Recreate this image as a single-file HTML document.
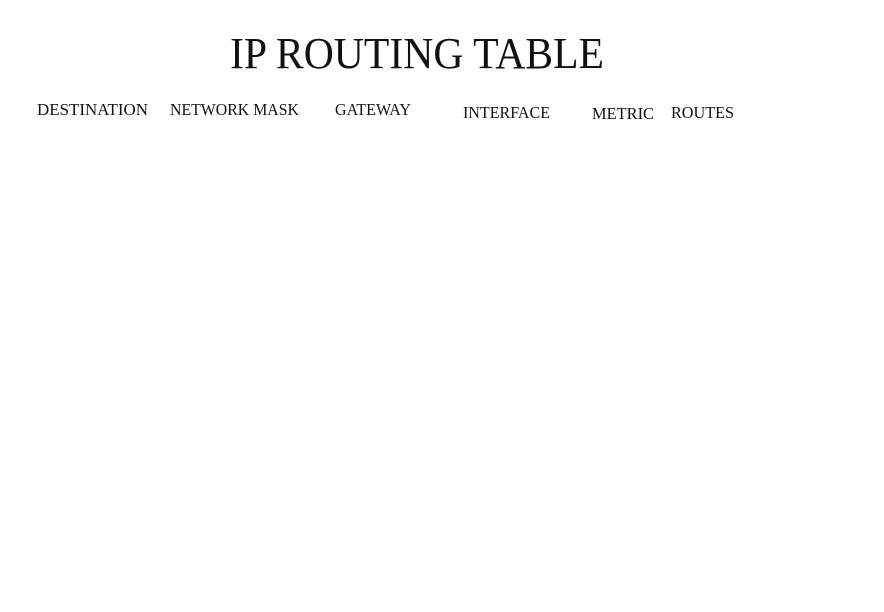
<!DOCTYPE html>
<html><head><meta charset="utf-8">
<style>
html,body{margin:0;padding:0;background:#fff;width:884px;height:612px;overflow:hidden}
svg{display:block}
text{font-family:"Liberation Serif",serif;fill:#111}
</style></head>
<body>
<svg width="884" height="612" viewBox="0 0 884 612">
<text x="230" y="68" font-size="44" textLength="374" lengthAdjust="spacingAndGlyphs">IP ROUTING TABLE</text>
<text x="37" y="115" font-size="16.5" textLength="111" lengthAdjust="spacingAndGlyphs">DESTINATION</text>
<text x="170" y="115" font-size="16.5" textLength="129" lengthAdjust="spacingAndGlyphs">NETWORK MASK</text>
<text x="335" y="115" font-size="16.5" textLength="76" lengthAdjust="spacingAndGlyphs">GATEWAY</text>
<text x="463" y="118" font-size="16.5" textLength="87" lengthAdjust="spacingAndGlyphs">INTERFACE</text>
<text x="592" y="119" font-size="16.5" textLength="62" lengthAdjust="spacingAndGlyphs">METRIC</text>
<text x="671" y="118" font-size="16.5" textLength="63" lengthAdjust="spacingAndGlyphs">ROUTES</text>
</svg>
</body></html>
